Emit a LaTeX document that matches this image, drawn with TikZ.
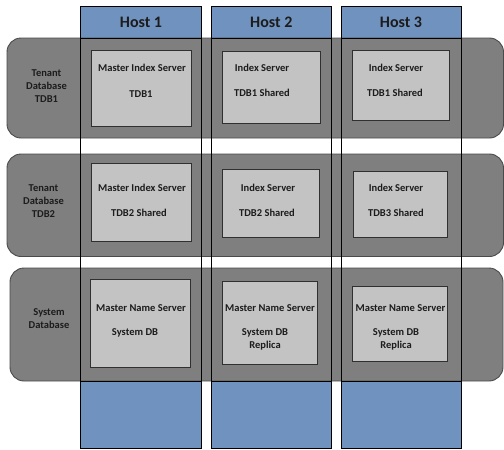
\documentclass[tikz,border=0pt]{standalone}
\usepackage{fontspec}
\setmainfont{Carlito}
\begin{document}
\begin{tikzpicture}[x=1pt,y=-1pt,
  hosthead/.style={fill=hostblue,draw=none},
  hostcol/.style={draw=black,line width=0.9pt},
  band/.style={fill=bandgray,draw=banddark,line width=0.9pt,rounded corners=14pt},
  srv/.style={fill=srvgray,draw=srvdark,line width=0.9pt,minimum width=#1,inner sep=0pt},
  lbl/.style={text=txtcol,font=\bfseries\fontsize{10.5}{13}\selectfont,align=center,inner sep=0pt},
  hlbl/.style={text=txtcol,font=\bfseries\fontsize{16}{18}\selectfont,inner sep=0pt}]
\definecolor{hostblue}{HTML}{7092BE}
\definecolor{bandgray}{HTML}{7F7F7F}
\definecolor{banddark}{HTML}{4A4A4A}
\definecolor{srvgray}{HTML}{C3C3C3}
\definecolor{srvdark}{HTML}{303030}
\definecolor{txtcol}{HTML}{1C1C1C}
\useasboundingbox (0,0) rectangle (504,450);
% blue header and footer parts of host columns
\fill[hostblue] (80.5,6) rectangle (201.5,38);
\fill[hostblue] (211.3,6) rectangle (331.3,38);
\fill[hostblue] (341,6) rectangle (461,38);
\fill[hostblue] (80.5,381) rectangle (201.5,448);
\fill[hostblue] (211.3,381) rectangle (331.3,448);
\fill[hostblue] (341,381) rectangle (461,448);
% bands
\draw[band] (7,38) rectangle (503.5,138);
\draw[band] (7,154) rectangle (503.5,256.5);
\draw[band] (10,268) rectangle (503,381);
% server boxes
\draw[srv] (91.7,50) rectangle (191.7,126);
\draw[srv] (222,51.7) rectangle (320.3,123);
\draw[srv] (352.7,50) rectangle (449.7,120);
\draw[srv] (91.7,163.3) rectangle (191,241.7);
\draw[srv] (222,169.3) rectangle (319.7,237.3);
\draw[srv] (353.7,171.7) rectangle (447,237.7);
\draw[srv] (90.7,279) rectangle (190,367.7);
\draw[srv] (222,281.7) rectangle (317.5,364);
\draw[srv] (352,286.7) rectangle (447,361.7);
% host column outlines
\draw[hostcol] (80.5,6) rectangle (201.5,448) (80.5,38) -- (201.5,38) (80.5,381) -- (201.5,381);
\draw[hostcol] (211.3,6) rectangle (331.3,448) (211.3,38) -- (331.3,38) (211.3,381) -- (331.3,381);
\draw[hostcol] (341,6) rectangle (461,448) (341,38) -- (461,38) (341,381) -- (461,381);
% host labels
\node[hlbl] (h1) at (141,22) {Host 1};
\node[hlbl] (h2) at (271.3,22) {Host 2};
\node[hlbl] (h3) at (401,22) {Host 3};
% band labels
\node[lbl] (b1) at (46.5,86) {Tenant\\Database\\TDB1};
\node[lbl] (b2) at (43.5,201) {Tenant\\Database\\TDB2};
\node[lbl] (b3) at (49,319) {System\\Database};
% server texts
\node[lbl] (s11a) at (142,68) {Master Index Server};
\node[lbl] (s11b) at (141,94) {TDB1};
\node[lbl] (s12a) at (262,68) {Index Server};
\node[lbl] (s12b) at (262,93) {TDB1 Shared};
\node[lbl] (s13a) at (396,68) {Index Server};
\node[lbl] (s13b) at (395,93) {TDB1 Shared};
\node[lbl] (s21a) at (142,188) {Master Index Server};
\node[lbl] (s21b) at (139,212.5) {TDB2 Shared};
\node[lbl] (s22a) at (268,188) {Index Server};
\node[lbl] (s22b) at (267,212.5) {TDB2 Shared};
\node[lbl] (s23a) at (396,188) {Index Server};
\node[lbl] (s23b) at (396,212.5) {TDB3 Shared};
\node[lbl] (s31a) at (141,308) {Master Name Server};
\node[lbl] (s31b) at (135,333) {System DB};
\node[lbl] (s32a) at (270,308) {Master Name Server};
\node[lbl] (s32b) at (265,339.5) {System DB\\Replica};
\node[lbl] (s33a) at (400.5,308) {Master Name Server};
\node[lbl] (s33b) at (396,339.5) {System DB\\Replica};
\end{tikzpicture}
\end{document}
